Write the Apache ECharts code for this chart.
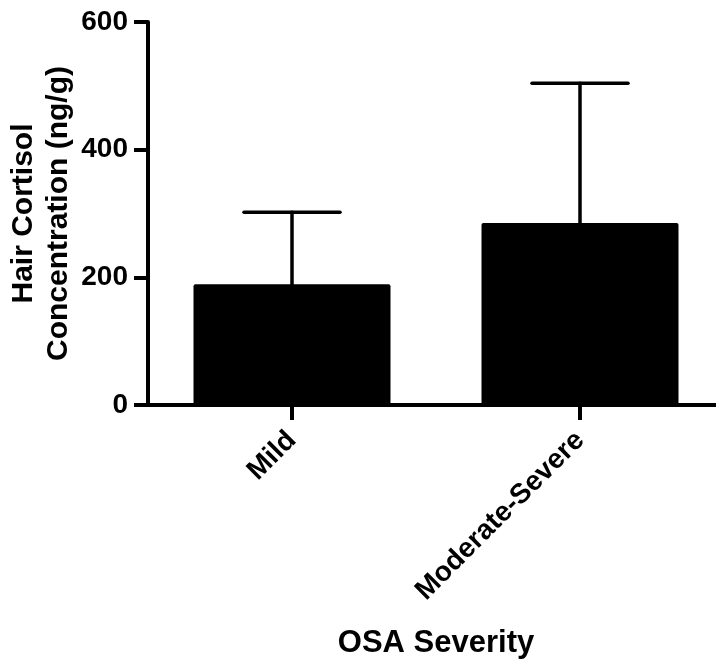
<!DOCTYPE html>
<html>
<head>
<meta charset="utf-8">
<script src="https://cdn.jsdelivr.net/npm/echarts@6/dist/echarts.min.js"></script>
<style>html,body{margin:0;padding:0;background:#fff;}#c{width:716px;height:660px;}</style>
</head>
<body>
<div id="c"></div>
<script>
const categories = ['Mild', 'Moderate-Severe'];
const means = [189, 285];
const errors = [113, 219];
const yTicks = [0, 200, 400, 600];

const FONT = '"Liberation Sans", Arial, sans-serif';
const chart = echarts.init(document.getElementById('c'), null, {renderer: 'canvas'});
chart.setOption({
  animation: false,
  backgroundColor: '#fff',
  grid: {left: 148, top: 22, width: 576, bottom: 255, containLabel: false, outerBoundsMode: 'none'},
  xAxis: {
    type: 'category',
    data: categories,
    name: 'OSA Severity',
    nameLocation: 'middle',
    nameGap: 223,
    nameMoveOverlap: false,
    nameTextStyle: {fontFamily: FONT, fontWeight: 'bold', fontSize: 31, color: '#000', verticalAlign: 'top'},
    axisLine: {lineStyle: {color: '#000', width: 4}},
    axisTick: {show: true, alignWithLabel: true, length: 15, lineStyle: {color: '#000', width: 4}},
    axisLabel: {rotate: 45, margin: 31, fontFamily: FONT, fontWeight: 'bold', fontSize: 28, color: '#000', interval: 0},
    splitLine: {show: false}
  },
  yAxis: {
    type: 'value',
    min: 0, max: 600, interval: 200,
    name: 'Hair Cortisol\nConcentration (ng/g)',
    nameLocation: 'middle',
    nameGap: 72,
    nameMoveOverlap: false,
    nameRotate: 90,
    nameTextStyle: {fontFamily: FONT, fontWeight: 'bold', fontSize: 30, lineHeight: 35, color: '#000'},
    axisLine: {show: true, lineStyle: {color: '#000', width: 4}},
    axisTick: {show: true, length: 14, lineStyle: {color: '#000', width: 4}},
    axisLabel: {margin: 20, fontFamily: FONT, fontWeight: 'bold', fontSize: 28, color: '#000',
      formatter: v => yTicks.includes(v) ? String(v) : ''},
    splitLine: {show: false}
  },
  series: [
    {
      type: 'bar',
      data: means,
      barWidth: 197,
      itemStyle: {color: '#000', borderRadius: 2},
      z: 2
    },
    {
      type: 'custom',
      data: means.map((m, i) => [i, m, m + errors[i]]),
      z: 3,
      renderItem: function (params, api) {
        const x = api.value(0);
        const base = api.coord([x, api.value(1)]);
        const top = api.coord([x, api.value(2)]);
        const capHalf = 48;
        const style = {stroke: '#000', lineWidth: 3.5, lineCap: 'round'};
        return {
          type: 'group',
          children: [
            {type: 'line', shape: {x1: base[0], y1: base[1], x2: top[0], y2: top[1]}, style: style},
            {type: 'line', shape: {x1: top[0] - capHalf, y1: top[1], x2: top[0] + capHalf, y2: top[1]}, style: style}
          ]
        };
      }
    }
  ]
});
</script>
</body>
</html>
